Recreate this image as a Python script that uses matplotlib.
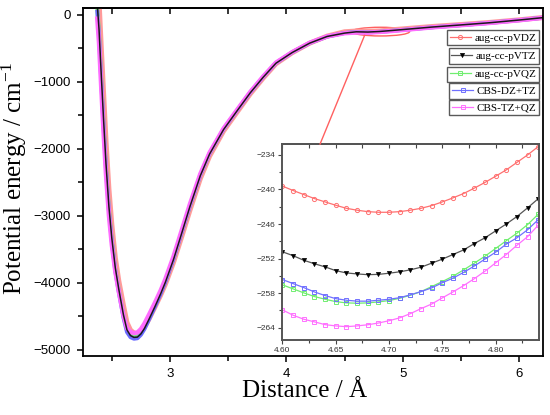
import matplotlib.pyplot as plt
from matplotlib.patches import Ellipse, ConnectionPatch
from matplotlib.legend import Legend

plt.rcParams['font.family'] = ['Liberation Sans', 'DejaVu Sans']
plt.rcParams['mathtext.fontset'] = 'custom'
plt.rcParams['mathtext.rm'] = 'Liberation Serif'
plt.rcParams['mathtext.it'] = 'Liberation Serif:italic'

# ---- data: whole curve (Distance / Å, energy / cm-1) ----
x_main = [2.375, 2.39, 2.41, 2.43, 2.45, 2.475, 2.50, 2.53, 2.56, 2.60, 2.63,
          2.66, 2.69, 2.72, 2.75, 2.78, 2.82, 2.87, 2.92, 2.96, 3.03, 3.10,
          3.17, 3.26, 3.34, 3.46, 3.57, 3.69, 3.80, 3.91, 4.05, 4.20, 4.35,
          4.50, 4.60, 4.70, 4.80, 4.90, 5.05, 5.25, 5.50, 5.75, 6.00, 6.20]
vdz_main = [560, 210, -507, -1194, -1884, -2596, -3129, -3625, -3969, -4336, -4590,
            -4703, -4748, -4756, -4724, -4661, -4537, -4362, -4180, -4021, -3692, -3312,
            -2920, -2444, -2107, -1732, -1464, -1176, -943, -728, -563, -420, -315,
            -250, -239.5, -244, -237.7, -222, -200, -172, -142, -110, -72, -38]
vtz_main = [150, -210, -915, -1590, -2220, -2860, -3333, -3775, -4095, -4478, -4700,
            -4785, -4812, -4808, -4760, -4680, -4540, -4355, -4160, -3990, -3650, -3260,
            -2865, -2400, -2075, -1710, -1445, -1160, -930, -720, -560, -420, -320,
            -270, -250.8, -254.6, -246, -232, -210, -180, -148, -115, -75, -40]
vqz_main = [100, -262, -966, -1640, -2262, -2893, -3358, -3784, -4096, -4469, -4680,
            -4756, -4780, -4775, -4727, -4648, -4512, -4331, -4140, -3973, -3635, -3247,
            -2857, -2393, -2070, -1706, -1441, -1157, -927, -718, -558, -419, -322,
            -269, -256.6, -259.6, -250.5, -236, -213, -183, -150, -116, -76, -40]
dztz_main = [48, -315, -1017, -1689, -2304, -2926, -3384, -3823, -4139, -4519, -4733,
             -4810, -4833, -4826, -4774, -4689, -4544, -4355, -4157, -3984, -3640, -3248,
             -2853, -2389, -2064, -1702, -1438, -1153, -924, -715, -557, -418, -322,
             -268, -255.7, -259.3, -252, -238, -215, -184, -151, -117, -77, -41]
tzqz_main = [-54, -420, -1119, -1788, -2388, -2992, -3435, -3830, -4128, -4484, -4675,
             -4731, -4749, -4739, -4688, -4607, -4472, -4297, -4110, -3942, -3604, -3216,
             -2828, -2373, -2054, -1694, -1431, -1147, -919, -711, -554, -415, -320,
             -272, -261, -263.5, -253, -240, -216, -185, -152, -118, -78, -42]

# ---- data: zoomed region ----
x_zoom = [4.60, 4.61, 4.62, 4.63, 4.64, 4.65, 4.66, 4.67, 4.68, 4.69, 4.70, 4.71,
          4.72, 4.73, 4.74, 4.75, 4.76, 4.77, 4.78, 4.79, 4.80, 4.81, 4.82, 4.83, 4.84]
vdz_zoom = [-239.42, -240.18, -240.88, -241.58, -242.16, -242.74, -243.27, -243.6,
            -243.85, -243.96, -243.96, -243.85, -243.6, -243.27, -242.8, -242.16,
            -241.46, -240.7, -239.77, -238.78, -237.7, -236.6, -235.3, -234.0, -232.55]
vtz_zoom = [-250.83, -251.5, -252.3, -252.9, -253.45, -254.1, -254.5, -254.67,
            -254.8, -254.75, -254.55, -254.3, -253.96, -253.5, -252.8, -252.1,
            -251.3, -250.5, -249.4, -248.4, -247.2, -246.0, -244.7, -243.2, -241.6]
vqz_zoom = [-256.57, -257.27, -257.96, -258.6, -259.07, -259.48, -259.7, -259.76,
            -259.7, -259.53, -259.3, -258.9, -258.37, -257.74, -256.87, -256.0,
            -255.07, -253.97, -252.8, -251.6, -250.26, -248.9, -247.6, -246.1, -244.3]
dztz_zoom = [-255.65, -256.35, -257.04, -257.8, -258.43, -258.96, -259.24, -259.4,
             -259.4, -259.24, -259.07, -258.8, -258.3, -257.74, -257.1, -256.2,
             -255.4, -254.4, -253.3, -252.1, -250.9, -249.5, -248.4, -247.0, -245.25]
tzqz_zoom = [-260.92, -261.85, -262.54, -263.0, -263.48, -263.7, -263.83, -263.7,
             -263.5, -263.2, -262.8, -262.3, -261.57, -260.7, -259.9, -258.83,
             -257.8, -256.7, -255.5, -254.2, -252.75, -251.3, -249.7, -248.2, -246.2]

labels = ['aug-cc-pVDZ', 'aug-cc-pVTZ', 'aug-cc-pVQZ', 'CBS-DZ+TZ', 'CBS-TZ+QZ']

fig = plt.figure(figsize=(5.5, 4.15), dpi=100)
ax = fig.add_axes([0.1504, 0.1422, 0.8360, 0.8378])

# main curves: thick bands, black thin on top
ax.plot(x_main, vdz_main, color='#ff9a9a', lw=3.6, solid_joinstyle='round')
ax.plot(x_main, vqz_main, color='#74ee74', lw=2.8, solid_joinstyle='round')
ax.plot(x_main, dztz_main, color='#6a6aff', lw=2.8, solid_joinstyle='round')
ax.plot(x_main, tzqz_main, color='#ff6cff', lw=3.2, solid_joinstyle='round')
ax.plot(x_main, vtz_main, color='#1a1a1a', lw=1.1, solid_joinstyle='round')

ax.set_xlim(2.25, 6.2)
ax.set_ylim(-5090, 100)
ax.set_xticks([3, 4, 5, 6])
ax.set_xticks([2.5, 3.5, 4.5, 5.5], minor=True)
ax.set_yticks([-5000, -4000, -3000, -2000, -1000, 0])
ax.set_yticks([-4500, -3500, -2500, -1500, -500], minor=True)
ax.tick_params(which='both', direction='out', top=False, right=False,
               labelsize=9.5, width=1.1)
ax.tick_params(which='major', length=4.5, pad=4)
ax.tick_params(which='minor', length=3.5)
for s in ax.spines.values():
    s.set_linewidth(1.3)

top = ax.secondary_xaxis('top')
top.set_xticks([2.5, 3, 3.5, 4, 4.5, 5, 5.5, 6])
top.tick_params(direction='in', length=4.5, width=1.1, labeltop=False)
top.spines['top'].set_linewidth(1.3)

ax.set_xlabel('Distance / Å', family='Liberation Serif', fontsize=18)
ax.set_ylabel('Potential energy / cm$^{-1}$', family='Liberation Serif', fontsize=18)
ax.xaxis.set_label_coords(0.4835, -0.07)
ax.yaxis.set_label_coords(-0.117, 0.51)

# highlighted region
ax.add_patch(Ellipse((4.808, -248), 0.5, 130, fill=False, ec='#ff6060', lw=1.0))

# inset
ins = fig.add_axes([0.5136, 0.1807, 0.4669, 0.4716])
l1, = ins.plot(x_zoom, vdz_zoom, color='#ff7070', lw=0.9, marker='o', ms=3,
               mfc='none', mew=0.7)
l2, = ins.plot(x_zoom, vtz_zoom, color='#555555', lw=0.9, marker='v', ms=3,
               mfc='black', mec='black', mew=0.5)
l3, = ins.plot(x_zoom, vqz_zoom, color='#70ee70', lw=0.9, marker='s', ms=2.8,
               mfc='none', mew=0.7)
l4, = ins.plot(x_zoom, dztz_zoom, color='#7070ff', lw=0.9, marker='s', ms=2.8,
               mfc='none', mew=0.7)
l5, = ins.plot(x_zoom, tzqz_zoom, color='#ff70ff', lw=0.9, marker='s', ms=2.8,
               mfc='none', mew=0.7)
ins.set_xlim(4.60, 4.841)
ins.set_ylim(-266.15, -232.15)
ins.set_xticks([4.60, 4.65, 4.70, 4.75, 4.80])
ins.set_xticklabels(['4.60', '4.65', '4.70', '4.75', '4.80'])
ins.set_xticks([4.625, 4.675, 4.725, 4.775, 4.825], minor=True)
ins.set_yticks([-264, -258, -252, -246, -240, -234])
ins.set_yticks([-261, -255, -249, -243, -237], minor=True)
ins.tick_params(which='both', direction='out', top=False, right=False,
                labelsize=6, labelcolor='#333333', color='#444444', width=0.8, pad=2)
ins.tick_params(which='major', length=3)
ins.tick_params(which='minor', length=2)
for s in ins.spines.values():
    s.set_linewidth(1.4)
    s.set_color('#555555')
itop = ins.secondary_xaxis('top')
itop.set_xticks([4.60, 4.625, 4.65, 4.675, 4.70, 4.725, 4.75, 4.775, 4.80, 4.825])
itop.tick_params(direction='in', length=3, width=0.8, color='#444444', labeltop=False)
itop.spines['top'].set_linewidth(1.4)
itop.spines['top'].set_color('#555555')

con = ConnectionPatch(xyA=(4.672, -302), coordsA=ax.transData,
                      xyB=(0.146, 1.0), coordsB=ins.transAxes,
                      color='#ff6060', lw=1.0)
fig.add_artist(con)

# one framed box per entry
tops = [30, 48.3, 66.7, 83.3, 100]
for h, lab, t in zip([l1, l2, l3, l4, l5], labels, tops):
    leg = Legend(ax, [h], [lab], loc='upper right',
                 bbox_to_anchor=(539 / 550, 1 - t / 415), bbox_transform=fig.transFigure,
                 borderaxespad=0, fancybox=False, edgecolor='0.35', framealpha=1,
                 prop={'family': 'Liberation Serif', 'size': 8},
                 handlelength=1.9, handletextpad=0.3, borderpad=0.25)
    leg.get_frame().set_linewidth(1.0)
    ax.add_artist(leg)

fig.savefig('out.png', dpi=100)
